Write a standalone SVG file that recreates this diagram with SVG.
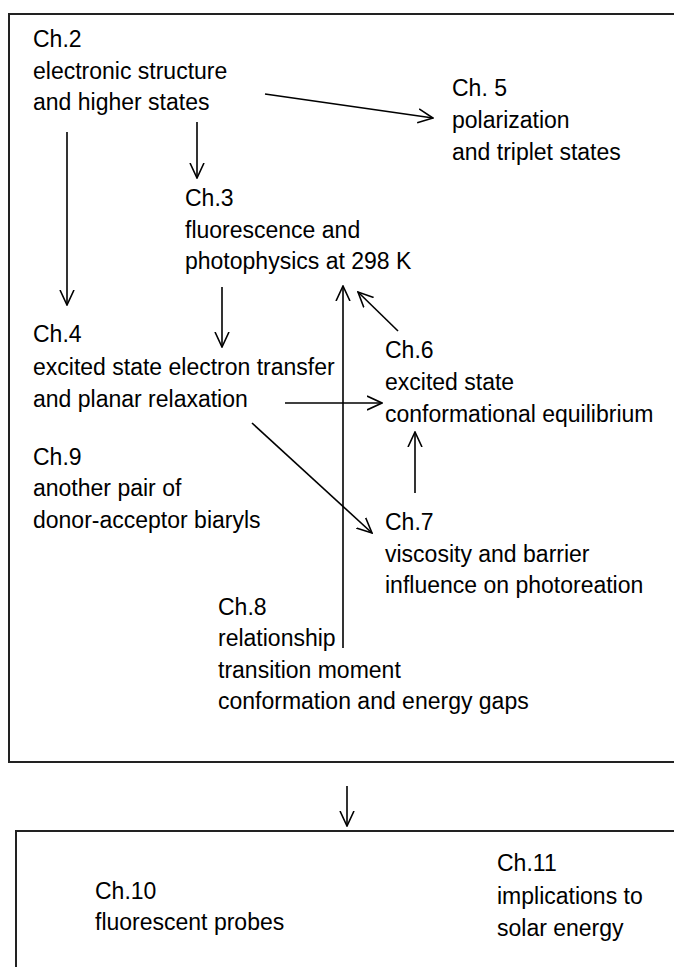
<svg xmlns="http://www.w3.org/2000/svg" width="674" height="967" viewBox="0 0 674 967">
<style>
text{font-family:"Liberation Sans",Arial,sans-serif;font-size:23px;fill:#000}
.box{fill:none;stroke:#222;stroke-width:2}
.c{fill:none;stroke:#000;stroke-width:1.6;marker-end:url(#ah)}
</style>
<defs>
<marker id="ah" markerUnits="userSpaceOnUse" markerWidth="16" markerHeight="16" refX="15" refY="7" orient="auto" viewBox="0 0 16 14">
<path d="M0,0 L15,7 L0,14" fill="none" stroke="#000" stroke-width="1.6"/>
</marker>
</defs>
<rect class="box" x="9" y="14" width="680" height="748"/>
<rect class="box" x="16" y="831" width="680" height="160"/>
<g id="connectors">
<line class="c" x1="265" y1="94" x2="433" y2="118"/>
<line class="c" x1="197" y1="122" x2="197" y2="178"/>
<line class="c" x1="67" y1="132" x2="67" y2="305"/>
<line class="c" x1="222" y1="287" x2="222" y2="347"/>
<line class="c" x1="343" y1="648" x2="343" y2="286"/>
<line class="c" x1="398" y1="331" x2="358" y2="292"/>
<line class="c" x1="285" y1="403" x2="382" y2="403"/>
<line class="c" x1="252" y1="423" x2="372" y2="533"/>
<line class="c" x1="415" y1="493" x2="415" y2="432"/>
<line class="c" x1="347" y1="786" x2="347" y2="826"/>
</g>
<g id="ch2"><text x="33" y="47">Ch.2</text><text x="33" y="79">electronic structure</text><text x="33" y="110">and higher states</text></g>
<g id="ch5"><text x="452" y="96">Ch. 5</text><text x="452" y="128">polarization</text><text x="452" y="160">and triplet states</text></g>
<g id="ch3"><text x="185" y="206">Ch.3</text><text x="185" y="238">fluorescence and</text><text x="185" y="269">photophysics at 298 K</text></g>
<g id="ch4"><text x="33" y="342">Ch.4</text><text x="33" y="375">excited state electron transfer</text><text x="33" y="407">and planar relaxation</text></g>
<g id="ch6"><text x="385" y="358">Ch.6</text><text x="385" y="390">excited state</text><text x="385" y="422">conformational equilibrium</text></g>
<g id="ch9"><text x="33" y="465">Ch.9</text><text x="33" y="496">another pair of</text><text x="33" y="528">donor-acceptor biaryls</text></g>
<g id="ch7"><text x="385" y="530">Ch.7</text><text x="385" y="562">viscosity and barrier</text><text x="385" y="593">influence on photoreation</text></g>
<g id="ch8"><text x="218" y="615">Ch.8</text><text x="218" y="646">relationship</text><text x="218" y="678">transition moment</text><text x="218" y="709">conformation and energy gaps</text></g>
<g id="ch10"><text x="95" y="899">Ch.10</text><text x="95" y="930">fluorescent probes</text></g>
<g id="ch11"><text x="497" y="871">Ch.11</text><text x="497" y="904">implications to</text><text x="497" y="936">solar energy</text></g>
</svg>
